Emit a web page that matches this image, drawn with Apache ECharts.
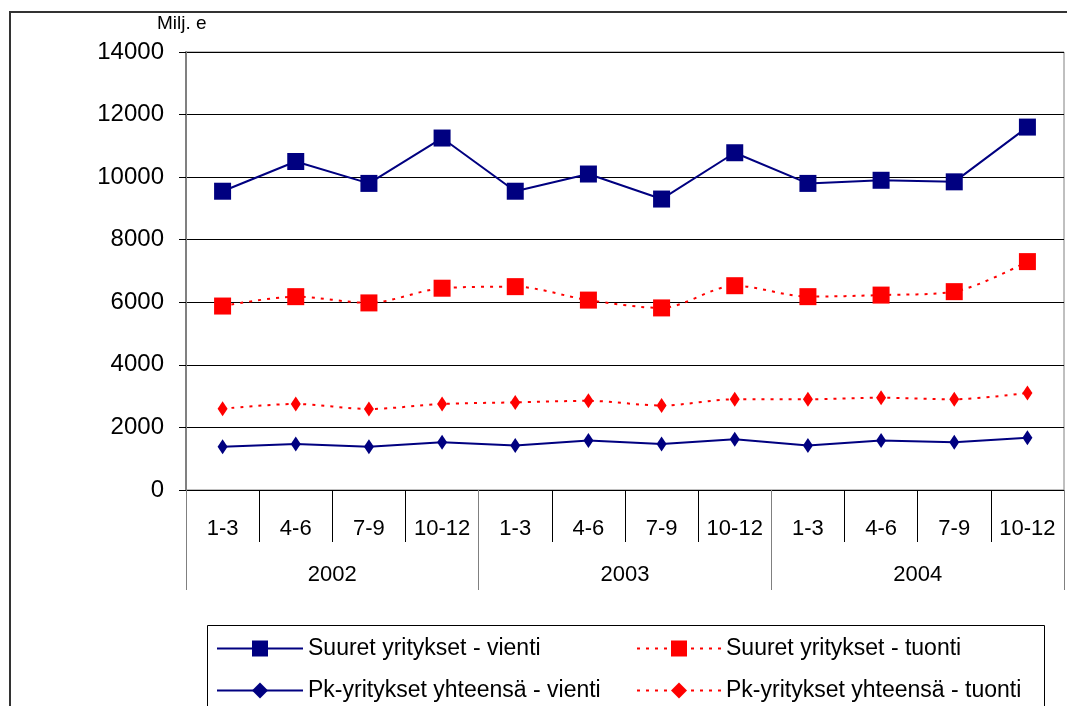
<!DOCTYPE html>
<html>
<head>
<meta charset="utf-8">
<script src="https://cdn.jsdelivr.net/npm/echarts@6/dist/echarts.min.js"></script>
<style>
  html, body { margin: 0; padding: 0; background: #fff; }
  #chart { width: 1067px; height: 706px; }
</style>
</head>
<body>
<div id="chart"></div>
<script>
// neljännekset ja vuodet
var quarters = ['1-3', '4-6', '7-9', '10-12', '1-3', '4-6', '7-9', '10-12', '1-3', '4-6', '7-9', '10-12'];
var years = ['2002', '2003', '2004'];
var yTicks = { min: 0, max: 14000, step: 2000 };

// sarjat (milj. e)
var suuretVienti = [9550, 10500, 9800, 11250, 9550, 10100, 9300, 10780, 9800, 9900, 9850, 11600];
var suuretTuonti = [5880, 6180, 5980, 6450, 6500, 6070, 5820, 6530, 6180, 6230, 6340, 7300];
var pkVienti = [1380, 1470, 1380, 1530, 1420, 1580, 1470, 1620, 1420, 1580, 1530, 1670];
var pkTuonti = [2600, 2750, 2590, 2750, 2800, 2850, 2700, 2900, 2900, 2950, 2900, 3100];

var FONT = '"Liberation Sans", Arial, sans-serif';
var NAVY = '#000080';
var RED = '#ff0000';

var myChart = echarts.init(document.getElementById('chart'), null, { renderer: 'canvas' });

var option = {
  backgroundColor: '#fff',
  animation: false,
  textStyle: { fontFamily: FONT, color: '#000' },
  title: {
    text: 'Milj. e',
    left: 157,
    top: 14,
    padding: 0,
    textStyle: { fontFamily: FONT, fontSize: 19, fontWeight: 'normal', color: '#000' }
  },
  // kehykset
  graphic: [
    {
      type: 'rect',
      shape: { x: 10, y: 12, width: 1100, height: 760 },
      style: { fill: null, stroke: '#333', lineWidth: 2 },
      silent: true
    },
    {
      type: 'rect',
      shape: { x: 207.5, y: 625.5, width: 837, height: 120 },
      style: { fill: null, stroke: '#000', lineWidth: 1 },
      silent: true
    }
  ],
  legend: [
    {
      orient: 'vertical',
      left: 216,
      top: 637,
      padding: 0,
      itemWidth: 86,
      itemHeight: 20,
      itemGap: 19,
      data: ['Suuret yritykset - vienti', 'Pk-yritykset yhteensä - vienti'],
      textStyle: { fontFamily: FONT, fontSize: 23, color: '#000' }
    },
    {
      orient: 'vertical',
      left: 636,
      top: 637,
      padding: 0,
      itemWidth: 84,
      itemHeight: 20,
      itemGap: 19,
      data: ['Suuret yritykset - tuonti', 'Pk-yritykset yhteensä - tuonti'],
      textStyle: { fontFamily: FONT, fontSize: 23, color: '#000' }
    }
  ],
  grid: {
    left: 186,
    right: 3,
    top: 52,
    bottom: 216,
    show: true,
    borderColor: '#808080',
    borderWidth: 1,
    containLabel: false,
    outerBoundsMode: 'none'
  },
  xAxis: [
    {
      type: 'category',
      data: quarters,
      position: 'bottom',
      boundaryGap: true,
      axisLine: { show: true, lineStyle: { color: '#000', width: 1 } },
      axisTick: { show: true, alignWithLabel: false, length: 52, interval: 0, lineStyle: { color: '#000' } },
      axisLabel: { interval: 0, margin: 28, fontSize: 22, color: '#000', fontFamily: FONT },
      splitLine: { show: false }
    },
    {
      type: 'category',
      data: years,
      position: 'bottom',
      offset: 0,
      boundaryGap: true,
      axisLine: { show: false },
      axisTick: { show: true, alignWithLabel: false, length: 100, interval: 0, lineStyle: { color: '#808080' } },
      axisLabel: { interval: 0, margin: 74, fontSize: 22, color: '#000', fontFamily: FONT },
      splitLine: { show: false }
    }
  ],
  yAxis: {
    type: 'value',
    min: yTicks.min,
    max: yTicks.max,
    interval: yTicks.step,
    axisLine: { show: true, lineStyle: { color: '#808080', width: 2 } },
    axisTick: { show: true, length: 7, lineStyle: { color: '#000' } },
    axisLabel: {
      margin: 22,
      fontSize: 24,
      color: '#000',
      fontFamily: FONT,
      formatter: function (value) {
        return String(value);
      }
    },
    splitLine: { show: true, lineStyle: { color: '#000', width: 1 } }
  },
  series: [
    {
      name: 'Suuret yritykset - vienti',
      type: 'line',
      data: suuretVienti,
      symbol: 'rect',
      symbolSize: 17,
      lineStyle: { color: NAVY, width: 2 },
      itemStyle: { color: NAVY }
    },
    {
      name: 'Suuret yritykset - tuonti',
      type: 'line',
      data: suuretTuonti,
      smooth: 0.3,
      symbol: 'rect',
      symbolSize: 17,
      lineStyle: { color: RED, width: 2, type: [3, 6] },
      itemStyle: { color: RED }
    },
    {
      name: 'Pk-yritykset yhteensä - vienti',
      type: 'line',
      data: pkVienti,
      symbol: 'diamond',
      symbolSize: [10, 15],
      lineStyle: { color: NAVY, width: 2 },
      itemStyle: { color: NAVY }
    },
    {
      name: 'Pk-yritykset yhteensä - tuonti',
      type: 'line',
      data: pkTuonti,
      smooth: 0.3,
      symbol: 'diamond',
      symbolSize: [10, 15],
      lineStyle: { color: RED, width: 2, type: [3, 6] },
      itemStyle: { color: RED }
    }
  ]
};

myChart.setOption(option, true);
window.addEventListener('resize', function () {
  myChart.resize();
});
</script>
</body>
</html>
